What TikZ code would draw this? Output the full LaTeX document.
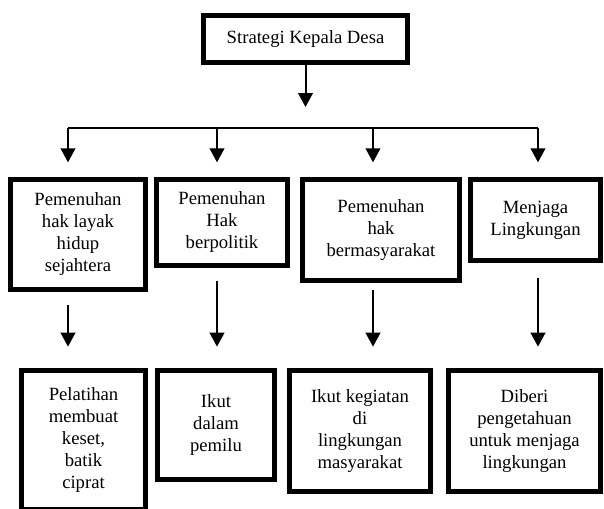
\documentclass[tikz,border=0pt]{standalone}
\usepackage{fontspec}
\setmainfont{Liberation Serif}
\usetikzlibrary{arrows.meta}
\begin{document}
\begin{tikzpicture}[x=0.75pt, y=-0.75pt,
    box/.style={draw=black, line width=3.75pt, inner sep=0pt, align=center,
      font=\fontsize{14}{16.5}\selectfont},
    link/.style={line width=1.5pt},
    arr/.style={line width=1.5pt, -{Triangle[width=11pt,length=10.5pt]}}]
    \useasboundingbox (0,0) rectangle (604,508);

    % Top box
    \node[box, minimum width=153pt, minimum height=35.25pt] (top) at (305.5,39) {Strategi Kepala Desa};
    \coordinate (split) at (305.5,107);
    \draw[arr] (top.south) -- (split);

    % First row: kinds of fulfilment
    \node[box, minimum width=101.25pt, minimum height=82.5pt] (b1) at (78,234.5)
      {Pemenuhan\\hak layak\\hidup\\sejahtera};
    \node[box, minimum width=98.25pt, minimum height=64.5pt] (b2) at (222,222.5)
      {Pemenuhan\\Hak\\berpolitik};
    \node[box, minimum width=117.75pt, minimum height=75.75pt] (b3) at (381,230)
      {Pemenuhan\\hak\\bermasyarakat};
    \node[box, minimum width=97.5pt, minimum height=60.75pt] (b4) at (535.5,220)
      {Menjaga\\Lingkungan};

    % Bus line with arrows down
    \coordinate (k1) at (68,128);
    \coordinate (k2) at (217,128);
    \coordinate (k3) at (373,128);
    \coordinate (k4) at (538,128);
    \draw[link] (k1) -- (k4);
    \foreach \k/\b in {k1/b1, k2/b2, k3/b3, k4/b4}
      \draw[arr, shorten >=11pt] (\k) -- (\k |- \b.north);

    % Second row: activities
    \node[box, minimum width=93pt, minimum height=104.25pt] (c1) at (83.5,440)
      {Pelatihan\\membuat\\keset,\\batik\\ciprat};
    \node[box, minimum width=87.75pt, minimum height=81.75pt] (c2) at (216,425)
      {Ikut\\dalam\\pemilu};
    \node[box, minimum width=105.75pt, minimum height=90.75pt] (c3) at (360,431)
      {Ikut kegiatan\\di\\lingkungan\\masyarakat};
    \node[box, minimum width=114pt, minimum height=90.75pt] (c4) at (524.5,431)
      {Diberi\\pengetahuan\\untuk menjaga\\lingkungan};

    \foreach \k/\b/\c/\gap in {k1/b1/c1/10pt, k2/b2/c2/9.4pt, k3/b3/c3/5.6pt, k4/b4/c4/11pt}
      \draw[arr, shorten <=\gap, shorten >=16pt] (\k |- \b.south) -- (\k |- \c.north);
  \end{tikzpicture}
\end{document}
